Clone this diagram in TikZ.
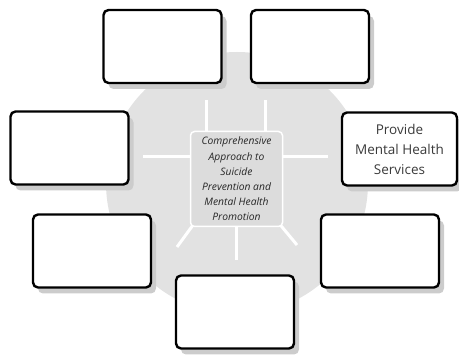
\documentclass[tikz,border=0pt]{standalone}
\usepackage{fontspec}
\setmainfont{Open Sans}
\usetikzlibrary{shadows,backgrounds}
\definecolor{disc}{HTML}{E2E2E2}
\definecolor{hubfill}{HTML}{DCDCDC}
\definecolor{shade}{HTML}{CCCCCC}
\definecolor{inktext}{HTML}{3A3A3A}
\begin{document}
\begin{tikzpicture}[x=1pt,y=-1pt,
  card/.style={draw=black, line width=2.4pt, fill=white, rounded corners=5pt,
    minimum width=118pt, minimum height=73pt, inner sep=0pt,
    drop shadow={shadow xshift=5pt, shadow yshift=-6pt, fill=shade, opacity=1},
    font=\fontsize{13.5}{20}\selectfont, text=inktext, align=center},
  hub/.style={draw=white, line width=1.5pt, fill=hubfill, rounded corners=4pt,
    minimum width=92pt, minimum height=95pt, inner sep=0pt,
    font=\fontsize{10.3}{15.2}\selectfont\itshape, text=black!85, align=center},
  spoke/.style={draw=white, line width=3pt}]
\useasboundingbox (0,0) rectangle (459,355);
% central hub
\node[hub] (ctr) at (236.5,179) {Comprehensive\\Approach to\\Suicide\\Prevention and\\Mental Health\\Promotion};
% free ends of the spokes
\coordinate (e1) at (206,100);
\coordinate (e2) at (265,100);
\coordinate (e3) at (143,157);
\coordinate (e4) at (328,157);
\coordinate (e5) at (177,247);
\coordinate (e6) at (236,260);
\coordinate (e7) at (297,245);
\begin{scope}[on background layer]
  % background disc
  \fill[disc] (237,183) circle (131);
  % spokes, tucked under the hub
  \draw[spoke] (e1) -- (e1 |- ctr.center);
  \draw[spoke] (e2) -- (e2 |- ctr.center);
  \draw[spoke] (e3) -- (e3 -| ctr.center);
  \draw[spoke] (e4) -- (e4 -| ctr.center);
  \draw[spoke] (e5) -- ([shift={(6,-6)}]ctr.south west);
  \draw[spoke] (e6) -- (e6 |- ctr.center);
  \draw[spoke] (e7) -- ([shift={(-6,-6)}]ctr.south east);
\end{scope}
% surrounding cards
\node[card] (tl) at (162.5,46.5) {};
\node[card] (tr) at (310,46.5) {};
\node[card] (lf) at (69.5,148) {};
\node[card, minimum width=115pt] (rt) at (399.5,149) {Provide\\Mental Health\\Services};
\node[card] (bl) at (92,251) {};
\node[card] (br) at (380,251) {};
\node[card] (bt) at (235,312) {};
\end{tikzpicture}
\end{document}
